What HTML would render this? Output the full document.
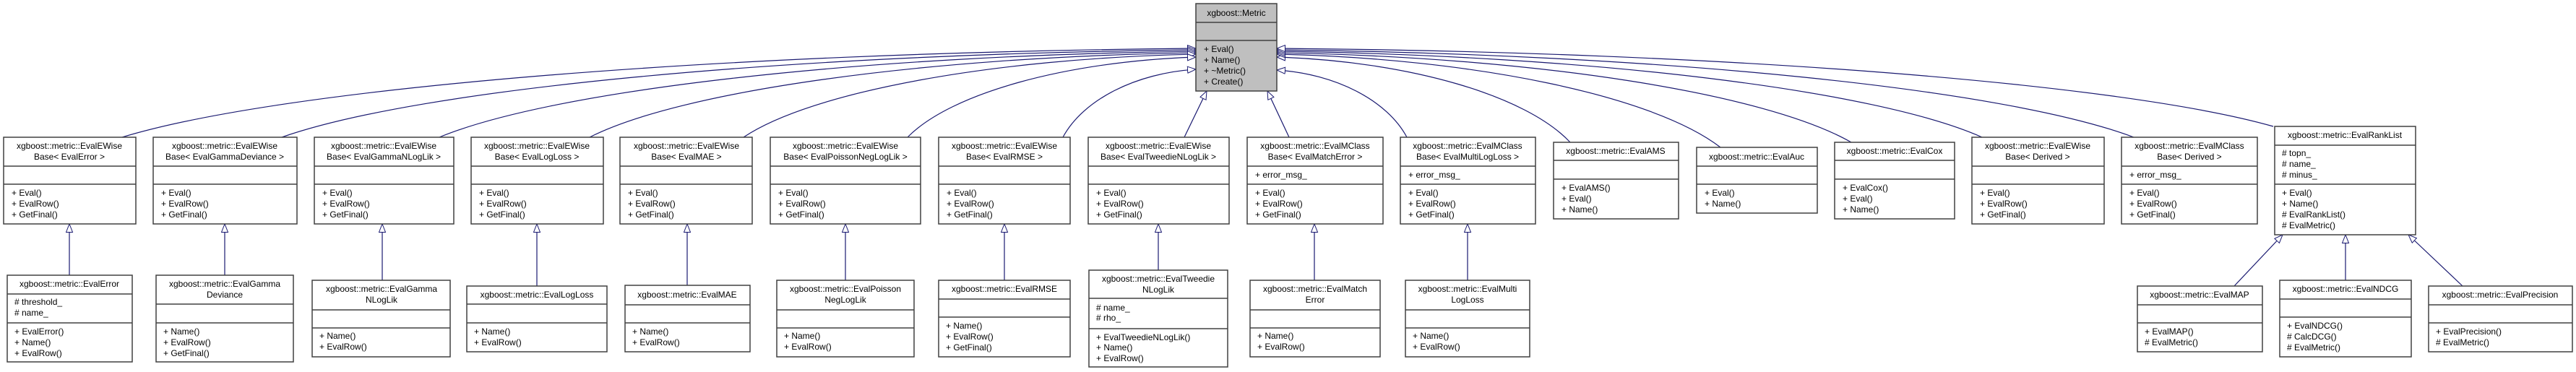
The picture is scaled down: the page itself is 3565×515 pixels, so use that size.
<!DOCTYPE html>
<html><head><meta charset="utf-8"><style>
html,body{margin:0;padding:0;background:#fff;}
svg{display:block;}
text{font-family:"Liberation Sans",Arial,sans-serif;font-size:12px;fill:#000;}
.b{fill:#fff;stroke:#404040;stroke-width:1.5;}
.g{fill:#bfbfbf;stroke:#404040;stroke-width:1.5;}
.d{stroke:#404040;stroke-width:1.5;}
.e{fill:none;stroke:#191970;stroke-width:1.2;marker-end:url(#tri);}
.c{text-anchor:middle;}
</style></head><body>
<svg width="3565" height="515" viewBox="0 0 3565 515" xmlns="http://www.w3.org/2000/svg">
<defs>
<marker id="tri" markerUnits="userSpaceOnUse" markerWidth="14" markerHeight="12" refX="12" refY="5" orient="auto">
<path d="M0.5,0.5 L12,5 L0.5,9.5 Z" fill="#fff" stroke="#191970" stroke-width="1"/>
</marker>
</defs>

<!-- edges to Metric -->
<path class="e" d="M169,190 C392,122 986,73 1655,67"/>
<path class="e" d="M390,190 C580,123 1086,75 1655,69"/>
<path class="e" d="M608,190 C765,125 1184,77 1655,71"/>
<path class="e" d="M816,190 C942,126 1277,79 1655,73"/>
<path class="e" d="M1029,190 C1123,127 1373,81 1655,75"/>
<path class="e" d="M1256,190 C1316,129 1475,85 1655,79"/>
<path class="e" d="M1471,190 C1499,138 1572,101 1655,96"/>
<path class="e" d="M1639,190 L1670,126"/>
<path class="e" d="M1784,190 L1754,126"/>
<path class="e" d="M1947,190 C1920,139 1848,102 1767,97"/>
<path class="e" d="M2173,197 C2112,132 1950,85 1767,79"/>
<path class="e" d="M2381,204 C2289,133 2043,81 1767,75"/>
<path class="e" d="M2562,197 C2443,129 2125,79 1767,73"/>
<path class="e" d="M2743,190 C2597,125 2206,77 1767,71"/>
<path class="e" d="M2953,190 C2775,123 2301,75 1767,69"/>
<path class="e" d="M3146,175 C2939,116 2388,72 1767,67"/>

<!-- row2 edges -->
<path class="e" d="M96,381 L96,310"/>
<path class="e" d="M311,381 L311,310"/>
<path class="e" d="M529,388 L529,310"/>
<path class="e" d="M743,396 L743,310"/>
<path class="e" d="M951,395 L951,310"/>
<path class="e" d="M1170,388 L1170,310"/>
<path class="e" d="M1390,388 L1390,310"/>
<path class="e" d="M1603,374 L1603,310"/>
<path class="e" d="M1819,388 L1819,310"/>
<path class="e" d="M2031,388 L2031,310"/>
<path class="e" d="M3092,396 L3159,325"/>
<path class="e" d="M3246,388 L3246,325"/>
<path class="e" d="M3408,396 L3333,325"/>

<!-- Metric -->
<rect class="g" x="1655" y="5" width="112" height="121"/>
<line class="d" x1="1655" y1="31" x2="1767" y2="31"/><line class="d" x1="1655" y1="56" x2="1767" y2="56"/>
<text class="c" x="1711" y="22">xgboost::Metric</text>
<text x="1666" y="72">+ Eval()</text><text x="1666" y="87">+ Name()</text><text x="1666" y="102">+ ~Metric()</text><text x="1666" y="117">+ Create()</text>

<!-- Row 1 EWise-type boxes -->
<g>
<rect class="b" x="5" y="190" width="183" height="120"/><line class="d" x1="5" y1="230" x2="188" y2="230"/><line class="d" x1="5" y1="255" x2="188" y2="255"/>
<text class="c" x="96" y="206">xgboost::metric::EvalEWise</text><text class="c" x="96" y="221">Base&lt; EvalError &gt;</text>
<text x="16" y="271">+ Eval()</text><text x="16" y="286">+ EvalRow()</text><text x="16" y="301">+ GetFinal()</text>

<rect class="b" x="212" y="190" width="199" height="120"/><line class="d" x1="212" y1="230" x2="411" y2="230"/><line class="d" x1="212" y1="255" x2="411" y2="255"/>
<text class="c" x="311" y="206">xgboost::metric::EvalEWise</text><text class="c" x="311" y="221">Base&lt; EvalGammaDeviance &gt;</text>
<text x="223" y="271">+ Eval()</text><text x="223" y="286">+ EvalRow()</text><text x="223" y="301">+ GetFinal()</text>

<rect class="b" x="435" y="190" width="193" height="120"/><line class="d" x1="435" y1="230" x2="628" y2="230"/><line class="d" x1="435" y1="255" x2="628" y2="255"/>
<text class="c" x="531" y="206">xgboost::metric::EvalEWise</text><text class="c" x="531" y="221">Base&lt; EvalGammaNLogLik &gt;</text>
<text x="446" y="271">+ Eval()</text><text x="446" y="286">+ EvalRow()</text><text x="446" y="301">+ GetFinal()</text>

<rect class="b" x="652" y="190" width="183" height="120"/><line class="d" x1="652" y1="230" x2="835" y2="230"/><line class="d" x1="652" y1="255" x2="835" y2="255"/>
<text class="c" x="743" y="206">xgboost::metric::EvalEWise</text><text class="c" x="743" y="221">Base&lt; EvalLogLoss &gt;</text>
<text x="663" y="271">+ Eval()</text><text x="663" y="286">+ EvalRow()</text><text x="663" y="301">+ GetFinal()</text>

<rect class="b" x="858" y="190" width="183" height="120"/><line class="d" x1="858" y1="230" x2="1041" y2="230"/><line class="d" x1="858" y1="255" x2="1041" y2="255"/>
<text class="c" x="950" y="206">xgboost::metric::EvalEWise</text><text class="c" x="950" y="221">Base&lt; EvalMAE &gt;</text>
<text x="869" y="271">+ Eval()</text><text x="869" y="286">+ EvalRow()</text><text x="869" y="301">+ GetFinal()</text>

<rect class="b" x="1066" y="190" width="208" height="120"/><line class="d" x1="1066" y1="230" x2="1274" y2="230"/><line class="d" x1="1066" y1="255" x2="1274" y2="255"/>
<text class="c" x="1170" y="206">xgboost::metric::EvalEWise</text><text class="c" x="1170" y="221">Base&lt; EvalPoissonNegLogLik &gt;</text>
<text x="1077" y="271">+ Eval()</text><text x="1077" y="286">+ EvalRow()</text><text x="1077" y="301">+ GetFinal()</text>

<rect class="b" x="1299" y="190" width="182" height="120"/><line class="d" x1="1299" y1="230" x2="1481" y2="230"/><line class="d" x1="1299" y1="255" x2="1481" y2="255"/>
<text class="c" x="1390" y="206">xgboost::metric::EvalEWise</text><text class="c" x="1390" y="221">Base&lt; EvalRMSE &gt;</text>
<text x="1310" y="271">+ Eval()</text><text x="1310" y="286">+ EvalRow()</text><text x="1310" y="301">+ GetFinal()</text>

<rect class="b" x="1506" y="190" width="195" height="120"/><line class="d" x1="1506" y1="230" x2="1701" y2="230"/><line class="d" x1="1506" y1="255" x2="1701" y2="255"/>
<text class="c" x="1603" y="206">xgboost::metric::EvalEWise</text><text class="c" x="1603" y="221">Base&lt; EvalTweedieNLogLik &gt;</text>
<text x="1517" y="271">+ Eval()</text><text x="1517" y="286">+ EvalRow()</text><text x="1517" y="301">+ GetFinal()</text>

<rect class="b" x="1726" y="190" width="188" height="120"/><line class="d" x1="1726" y1="230" x2="1914" y2="230"/><line class="d" x1="1726" y1="255" x2="1914" y2="255"/>
<text class="c" x="1820" y="206">xgboost::metric::EvalMClass</text><text class="c" x="1820" y="221">Base&lt; EvalMatchError &gt;</text>
<text x="1737" y="246">+ error_msg_</text>
<text x="1737" y="271">+ Eval()</text><text x="1737" y="286">+ EvalRow()</text><text x="1737" y="301">+ GetFinal()</text>

<rect class="b" x="1938" y="190" width="187" height="120"/><line class="d" x1="1938" y1="230" x2="2125" y2="230"/><line class="d" x1="1938" y1="255" x2="2125" y2="255"/>
<text class="c" x="2031" y="206">xgboost::metric::EvalMClass</text><text class="c" x="2031" y="221">Base&lt; EvalMultiLogLoss &gt;</text>
<text x="1949" y="246">+ error_msg_</text>
<text x="1949" y="271">+ Eval()</text><text x="1949" y="286">+ EvalRow()</text><text x="1949" y="301">+ GetFinal()</text>

<rect class="b" x="2150" y="197" width="173" height="106"/><line class="d" x1="2150" y1="222" x2="2323" y2="222"/><line class="d" x1="2150" y1="248" x2="2323" y2="248"/>
<text class="c" x="2236" y="213">xgboost::metric::EvalAMS</text>
<text x="2161" y="264">+ EvalAMS()</text><text x="2161" y="279">+ Eval()</text><text x="2161" y="294">+ Name()</text>

<rect class="b" x="2348" y="204" width="167" height="91"/><line class="d" x1="2348" y1="230" x2="2515" y2="230"/><line class="d" x1="2348" y1="255" x2="2515" y2="255"/>
<text class="c" x="2431" y="221">xgboost::metric::EvalAuc</text>
<text x="2359" y="271">+ Eval()</text><text x="2359" y="286">+ Name()</text>

<rect class="b" x="2539" y="197" width="166" height="106"/><line class="d" x1="2539" y1="222" x2="2705" y2="222"/><line class="d" x1="2539" y1="248" x2="2705" y2="248"/>
<text class="c" x="2622" y="213">xgboost::metric::EvalCox</text>
<text x="2550" y="264">+ EvalCox()</text><text x="2550" y="279">+ Eval()</text><text x="2550" y="294">+ Name()</text>

<rect class="b" x="2729" y="190" width="183" height="120"/><line class="d" x1="2729" y1="230" x2="2912" y2="230"/><line class="d" x1="2729" y1="255" x2="2912" y2="255"/>
<text class="c" x="2820" y="206">xgboost::metric::EvalEWise</text><text class="c" x="2820" y="221">Base&lt; Derived &gt;</text>
<text x="2740" y="271">+ Eval()</text><text x="2740" y="286">+ EvalRow()</text><text x="2740" y="301">+ GetFinal()</text>

<rect class="b" x="2936" y="190" width="188" height="120"/><line class="d" x1="2936" y1="230" x2="3124" y2="230"/><line class="d" x1="2936" y1="255" x2="3124" y2="255"/>
<text class="c" x="3030" y="206">xgboost::metric::EvalMClass</text><text class="c" x="3030" y="221">Base&lt; Derived &gt;</text>
<text x="2947" y="246">+ error_msg_</text>
<text x="2947" y="271">+ Eval()</text><text x="2947" y="286">+ EvalRow()</text><text x="2947" y="301">+ GetFinal()</text>

<rect class="b" x="3148" y="175" width="195" height="150"/><line class="d" x1="3148" y1="201" x2="3343" y2="201"/><line class="d" x1="3148" y1="255" x2="3343" y2="255"/>
<text class="c" x="3245" y="191">xgboost::metric::EvalRankList</text>
<text x="3158" y="216"># topn_</text><text x="3158" y="231"># name_</text><text x="3158" y="246"># minus_</text>
<text x="3158" y="271">+ Eval()</text><text x="3158" y="286">+ Name()</text><text x="3158" y="301"># EvalRankList()</text><text x="3158" y="316"># EvalMetric()</text>
</g>

<!-- Row 2 -->
<g>
<rect class="b" x="10" y="381" width="173" height="120"/><line class="d" x1="10" y1="407" x2="183" y2="407"/><line class="d" x1="10" y1="447" x2="183" y2="447"/>
<text class="c" x="96" y="397">xgboost::metric::EvalError</text>
<text x="20" y="422"># threshold_</text><text x="20" y="437"># name_</text>
<text x="20" y="463">+ EvalError()</text><text x="20" y="478">+ Name()</text><text x="20" y="493">+ EvalRow()</text>

<rect class="b" x="216" y="381" width="190" height="120"/><line class="d" x1="216" y1="421" x2="406" y2="421"/><line class="d" x1="216" y1="447" x2="406" y2="447"/>
<text class="c" x="311" y="397">xgboost::metric::EvalGamma</text><text class="c" x="311" y="412">Deviance</text>
<text x="226" y="463">+ Name()</text><text x="226" y="478">+ EvalRow()</text><text x="226" y="493">+ GetFinal()</text>

<rect class="b" x="432" y="388" width="191" height="106"/><line class="d" x1="432" y1="429" x2="623" y2="429"/><line class="d" x1="432" y1="454" x2="623" y2="454"/>
<text class="c" x="528" y="404">xgboost::metric::EvalGamma</text><text class="c" x="528" y="419">NLogLik</text>
<text x="442" y="469">+ Name()</text><text x="442" y="484">+ EvalRow()</text>

<rect class="b" x="646" y="396" width="194" height="91"/><line class="d" x1="646" y1="421" x2="840" y2="421"/><line class="d" x1="646" y1="447" x2="840" y2="447"/>
<text class="c" x="743" y="412">xgboost::metric::EvalLogLoss</text>
<text x="656" y="463">+ Name()</text><text x="656" y="478">+ EvalRow()</text>

<rect class="b" x="865" y="395" width="173" height="92"/><line class="d" x1="865" y1="422" x2="1038" y2="422"/><line class="d" x1="865" y1="447" x2="1038" y2="447"/>
<text class="c" x="951" y="412">xgboost::metric::EvalMAE</text>
<text x="875" y="463">+ Name()</text><text x="875" y="478">+ EvalRow()</text>

<rect class="b" x="1075" y="388" width="190" height="106"/><line class="d" x1="1075" y1="429" x2="1265" y2="429"/><line class="d" x1="1075" y1="454" x2="1265" y2="454"/>
<text class="c" x="1170" y="404">xgboost::metric::EvalPoisson</text><text class="c" x="1170" y="419">NegLogLik</text>
<text x="1085" y="469">+ Name()</text><text x="1085" y="484">+ EvalRow()</text>

<rect class="b" x="1299" y="388" width="182" height="106"/><line class="d" x1="1299" y1="414" x2="1481" y2="414"/><line class="d" x1="1299" y1="439" x2="1481" y2="439"/>
<text class="c" x="1390" y="404">xgboost::metric::EvalRMSE</text>
<text x="1309" y="455">+ Name()</text><text x="1309" y="470">+ EvalRow()</text><text x="1309" y="485">+ GetFinal()</text>

<rect class="b" x="1507" y="374" width="192" height="134"/><line class="d" x1="1507" y1="413" x2="1699" y2="413"/><line class="d" x1="1507" y1="455" x2="1699" y2="455"/>
<text class="c" x="1603" y="390">xgboost::metric::EvalTweedie</text><text class="c" x="1603" y="405">NLogLik</text>
<text x="1517" y="430"># name_</text><text x="1517" y="444"># rho_</text>
<text x="1517" y="471">+ EvalTweedieNLogLik()</text><text x="1517" y="485">+ Name()</text><text x="1517" y="500">+ EvalRow()</text>

<rect class="b" x="1730" y="388" width="180" height="106"/><line class="d" x1="1730" y1="429" x2="1910" y2="429"/><line class="d" x1="1730" y1="454" x2="1910" y2="454"/>
<text class="c" x="1820" y="404">xgboost::metric::EvalMatch</text><text class="c" x="1820" y="419">Error</text>
<text x="1740" y="469">+ Name()</text><text x="1740" y="484">+ EvalRow()</text>

<rect class="b" x="1945" y="388" width="172" height="106"/><line class="d" x1="1945" y1="429" x2="2117" y2="429"/><line class="d" x1="1945" y1="454" x2="2117" y2="454"/>
<text class="c" x="2031" y="404">xgboost::metric::EvalMulti</text><text class="c" x="2031" y="419">LogLoss</text>
<text x="1955" y="469">+ Name()</text><text x="1955" y="484">+ EvalRow()</text>

<rect class="b" x="2958" y="396" width="173" height="91"/><line class="d" x1="2958" y1="422" x2="3131" y2="422"/><line class="d" x1="2958" y1="447" x2="3131" y2="447"/>
<text class="c" x="3044" y="412">xgboost::metric::EvalMAP</text>
<text x="2968" y="463">+ EvalMAP()</text><text x="2968" y="478"># EvalMetric()</text>

<rect class="b" x="3155" y="388" width="182" height="106"/><line class="d" x1="3155" y1="414" x2="3337" y2="414"/><line class="d" x1="3155" y1="439" x2="3337" y2="439"/>
<text class="c" x="3246" y="404">xgboost::metric::EvalNDCG</text>
<text x="3165" y="455">+ EvalNDCG()</text><text x="3165" y="470"># CalcDCG()</text><text x="3165" y="485"># EvalMetric()</text>

<rect class="b" x="3361" y="396" width="199" height="91"/><line class="d" x1="3361" y1="422" x2="3560" y2="422"/><line class="d" x1="3361" y1="447" x2="3560" y2="447"/>
<text class="c" x="3460" y="412">xgboost::metric::EvalPrecision</text>
<text x="3371" y="463">+ EvalPrecision()</text><text x="3371" y="478"># EvalMetric()</text>
</g>
</svg>
</body></html>
